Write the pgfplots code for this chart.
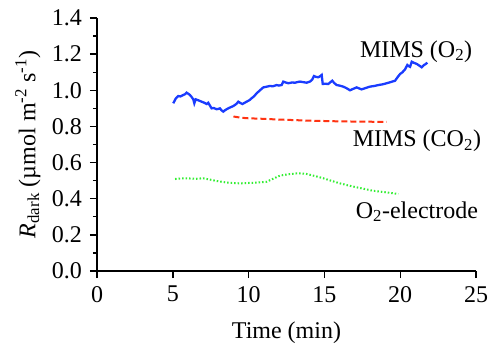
\documentclass[border=0pt]{standalone}
\usepackage{pgfplots}
\pgfplotsset{compat=1.18}
\usepackage{fontspec}
\setmainfont{Liberation Serif}
\definecolor{bl}{HTML}{1A3CFF}
\definecolor{rd}{HTML}{FF3311}
\definecolor{gr}{HTML}{33EE33}
\begin{document}
\fontsize{24}{28}\selectfont
\begin{tikzpicture}
\begin{axis}[
  scale only axis,
  width=379pt, height=253pt,
  xmin=0, xmax=25, ymin=0, ymax=1.4,
  axis x line*=bottom, axis y line*=left,
  axis line style={line width=1.4pt},
  every tick/.style={line width=1.4pt, black},
  tick align=outside,
  major tick length=7pt, minor tick length=4pt,
  xtick={0,5,10,15,20,25},
  xticklabels={0,5,10,15,20,25},
  ytick={0,0.2,0.4,0.6,0.8,1.0,1.2,1.4},
  yticklabels={0.0,0.2,0.4,0.6,0.8,1.0,1.2,1.4},
  minor ytick={0.1,0.3,0.5,0.7,0.9,1.1,1.3},
  ticklabel style={font=\rmfamily\fontsize{24}{28}\selectfont},
  label style={font=\rmfamily\fontsize{24}{28}\selectfont},
  xlabel={Time (min)},
  ylabel={{\itshape R}\textsubscript{dark} (µmol m\textsuperscript{-2} s\textsuperscript{-1})},
  xlabel style={yshift=-3pt},
  ylabel style={yshift=-5pt},
  clip=false,
]
\addplot[bl, line width=2.3pt] coordinates {
(5.03,0.928) (5.2,0.955) (5.36,0.968) (5.5,0.966) (5.69,0.974) (5.8,0.978) (5.91,0.987) (6.0,0.982) (6.13,0.974)
(6.25,0.962) (6.35,0.95) (6.42,0.928) (6.51,0.95) (6.7,0.944) (6.9,0.937) (7.05,0.932) (7.24,0.924)
(7.34,0.931) (7.45,0.915) (7.56,0.9) (7.7,0.902) (7.89,0.895) (8.0,0.897) (8.11,0.9) (8.2,0.89) (8.33,0.882)
(8.45,0.89) (8.55,0.895) (8.7,0.902) (8.89,0.909) (9.0,0.913) (9.1,0.919) (9.2,0.925) (9.32,0.937) (9.45,0.93) (9.59,0.924)
(9.72,0.93) (9.87,0.937) (10.05,0.945) (10.2,0.956) (10.35,0.966) (10.53,0.983) (10.75,1.0) (10.97,1.016)
(11.2,1.02) (11.41,1.024) (11.6,1.022) (11.85,1.029) (12.0,1.026) (12.18,1.029) (12.29,1.048) (12.45,1.043) (12.62,1.039)
(12.85,1.043) (13.06,1.042) (13.25,1.046) (13.39,1.048) (13.6,1.045) (13.83,1.042) (14.05,1.048) (14.2,1.06) (14.31,1.079)
(14.45,1.074) (14.6,1.072) (14.72,1.078) (14.82,1.085) (14.89,1.035) (15.05,1.036) (15.26,1.035) (15.4,1.045) (15.52,1.053)
(15.65,1.04) (15.81,1.029) (16.0,1.026) (16.25,1.02) (16.45,1.012) (16.69,1.0) (16.9,1.008) (17.13,1.016)
(17.3,1.01) (17.46,1.005) (17.7,1.012) (18.0,1.02) (18.3,1.024) (18.56,1.029) (18.85,1.033) (19.11,1.039)
(19.4,1.046) (19.66,1.053) (19.85,1.075) (19.99,1.09) (20.15,1.1) (20.32,1.116) (20.47,1.14) (20.55,1.134) (20.65,1.13)
(20.76,1.158) (20.9,1.152) (21.09,1.146) (21.25,1.137) (21.42,1.127) (21.57,1.14) (21.68,1.145) (21.79,1.153)
};
\addplot[rd, line width=2pt, dash pattern=on 6pt off 3pt] coordinates {
(9.0,0.855) (9.5,0.848) (10,0.845) (11,0.842) (12,0.838) (13,0.835) (14,0.832) (15,0.830)
(16,0.828) (17,0.827) (18,0.826) (19.1,0.825)
};
\addplot[gr, line width=2pt, dash pattern=on 1.5pt off 2pt] coordinates {
(5.15,0.509) (5.5,0.512) (5.9,0.513) (6.5,0.51) (7.0,0.513) (7.5,0.505) (7.9,0.498) (8.5,0.49)
(9.0,0.487) (9.43,0.485) (10,0.487) (10.5,0.489) (11.2,0.494) (11.6,0.51) (12.07,0.528) (12.6,0.535)
(13.17,0.54) (13.5,0.54) (13.83,0.537) (14.4,0.525) (14.93,0.513) (15.5,0.498) (16.03,0.485)
(16.6,0.473) (17.13,0.463) (17.7,0.453) (18.2,0.444) (18.6,0.44) (19.1,0.435) (19.87,0.426)
};
\node[anchor=base, font=\rmfamily\fontsize{24}{28}\selectfont] at (axis cs:21.05,1.184) {MIMS (O\textsubscript{2})};
\node[anchor=base, font=\rmfamily\fontsize{24}{28}\selectfont] at (axis cs:21.1,0.688) {MIMS (CO\textsubscript{2})};
\node[anchor=base, font=\rmfamily\fontsize{24}{28}\selectfont] at (axis cs:21.1,0.293) {O\textsubscript{2}-electrode};
\end{axis}
\pgfresetboundingbox
\path ([shift={(-97pt,-87pt)}]current axis.south west) rectangle ([shift={(15pt,18pt)}]current axis.north east);
\end{tikzpicture}
\end{document}
